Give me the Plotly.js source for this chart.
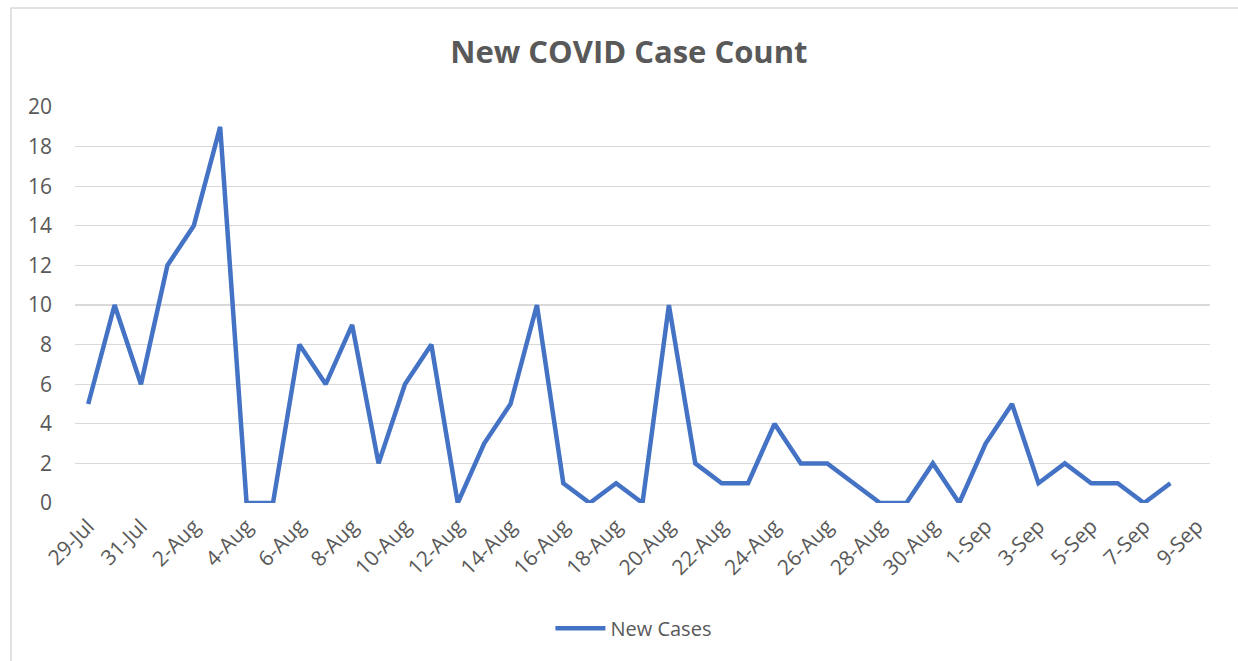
<!DOCTYPE html>
<html>
<head>
<meta charset="utf-8">
<script src="https://cdn.plot.ly/plotly-3.0.1.min.js"></script>
<style>
html,body{margin:0;padding:0;background:#fff;}
#chart{width:1238px;height:661px;}
</style>
</head>
<body>
<div id="chart"></div>
<script>
const dates = ["29-Jul","30-Jul","31-Jul","1-Aug","2-Aug","3-Aug","4-Aug","5-Aug","6-Aug","7-Aug","8-Aug","9-Aug","10-Aug","11-Aug","12-Aug","13-Aug","14-Aug","15-Aug","16-Aug","17-Aug","18-Aug","19-Aug","20-Aug","21-Aug","22-Aug","23-Aug","24-Aug","25-Aug","26-Aug","27-Aug","28-Aug","29-Aug","30-Aug","31-Aug","1-Sep","2-Sep","3-Sep","4-Sep","5-Sep","6-Sep","7-Sep","8-Sep","9-Sep"];
const newCases = [5,10,6,12,14,19,0,0,8,6,9,2,6,8,0,3,5,10,1,0,1,0,10,2,1,1,4,2,2,1,0,0,2,0,3,5,1,2,1,1,0,1,null];
const tickLabels = dates.filter((d,i)=>i%2===0);

const font = "'Open Sans', 'Liberation Sans', sans-serif";
const trace = {
  x: dates, y: newCases, type: 'scatter', mode: 'lines', name: 'New Cases',
  line: {color: '#4472C4', width: 4.5, shape: 'linear'},
  connectgaps: false
};
const layout = {
  width: 1238, height: 661,
  margin: {l: 75, r: 28, t: 107, b: 158},
  paper_bgcolor: '#ffffff', plot_bgcolor: '#ffffff',
  title: {text: '<b>New COVID Case Count</b>', x: 0.508, xref: 'container', xanchor: 'center', y: 0.921, yanchor: 'middle',
          font: {family: font, size: 31, color: '#595959'}},
  xaxis: {
    type: 'category', categoryorder: 'array', categoryarray: dates,
    range: [-0.5, 42.5], tickmode: 'array', tickvals: tickLabels, ticktext: tickLabels,
    tickangle: -45, showgrid: false, showline: false, zeroline: false, ticks: '',
    ticklabelstandoff: 6,
    tickfont: {family: font, size: 21, color: '#595959'}
  },
  yaxis: {
    range: [0, 20], dtick: 2, tick0: 0, showgrid: true, gridcolor: '#d9d9d9', gridwidth: 1.3,
    zeroline: false, showline: false, ticks: '', ticklabelstandoff: 22,
    tickfont: {family: font, size: 21, color: '#595959'}
  },
  showlegend: true,
  legend: {orientation: 'h', x: 0.492, xanchor: 'center', y: -0.316, yanchor: 'middle',
           font: {family: font, size: 20, color: '#595959'}, itemwidth: 50},
  shapes: [{type: 'rect', xref: 'paper', yref: 'paper', x0: -0.0564, x1: 1.1, y0: -0.6, y1: 1.25,
            line: {color: '#d9d9d9', width: 1.5}, fillcolor: 'rgba(0,0,0,0)', layer: 'below'}],
  annotations: [{text: 'cases.', xref: 'paper', yref: 'paper', x: -0.0661, xanchor: 'left', y: 1.262, yanchor: 'bottom',
                 showarrow: false, font: {family: font, size: 20, color: '#000000'}}]
};
Plotly.newPlot('chart', [trace], layout, {displayModeBar: false, staticPlot: true});
</script>
</body>
</html>
